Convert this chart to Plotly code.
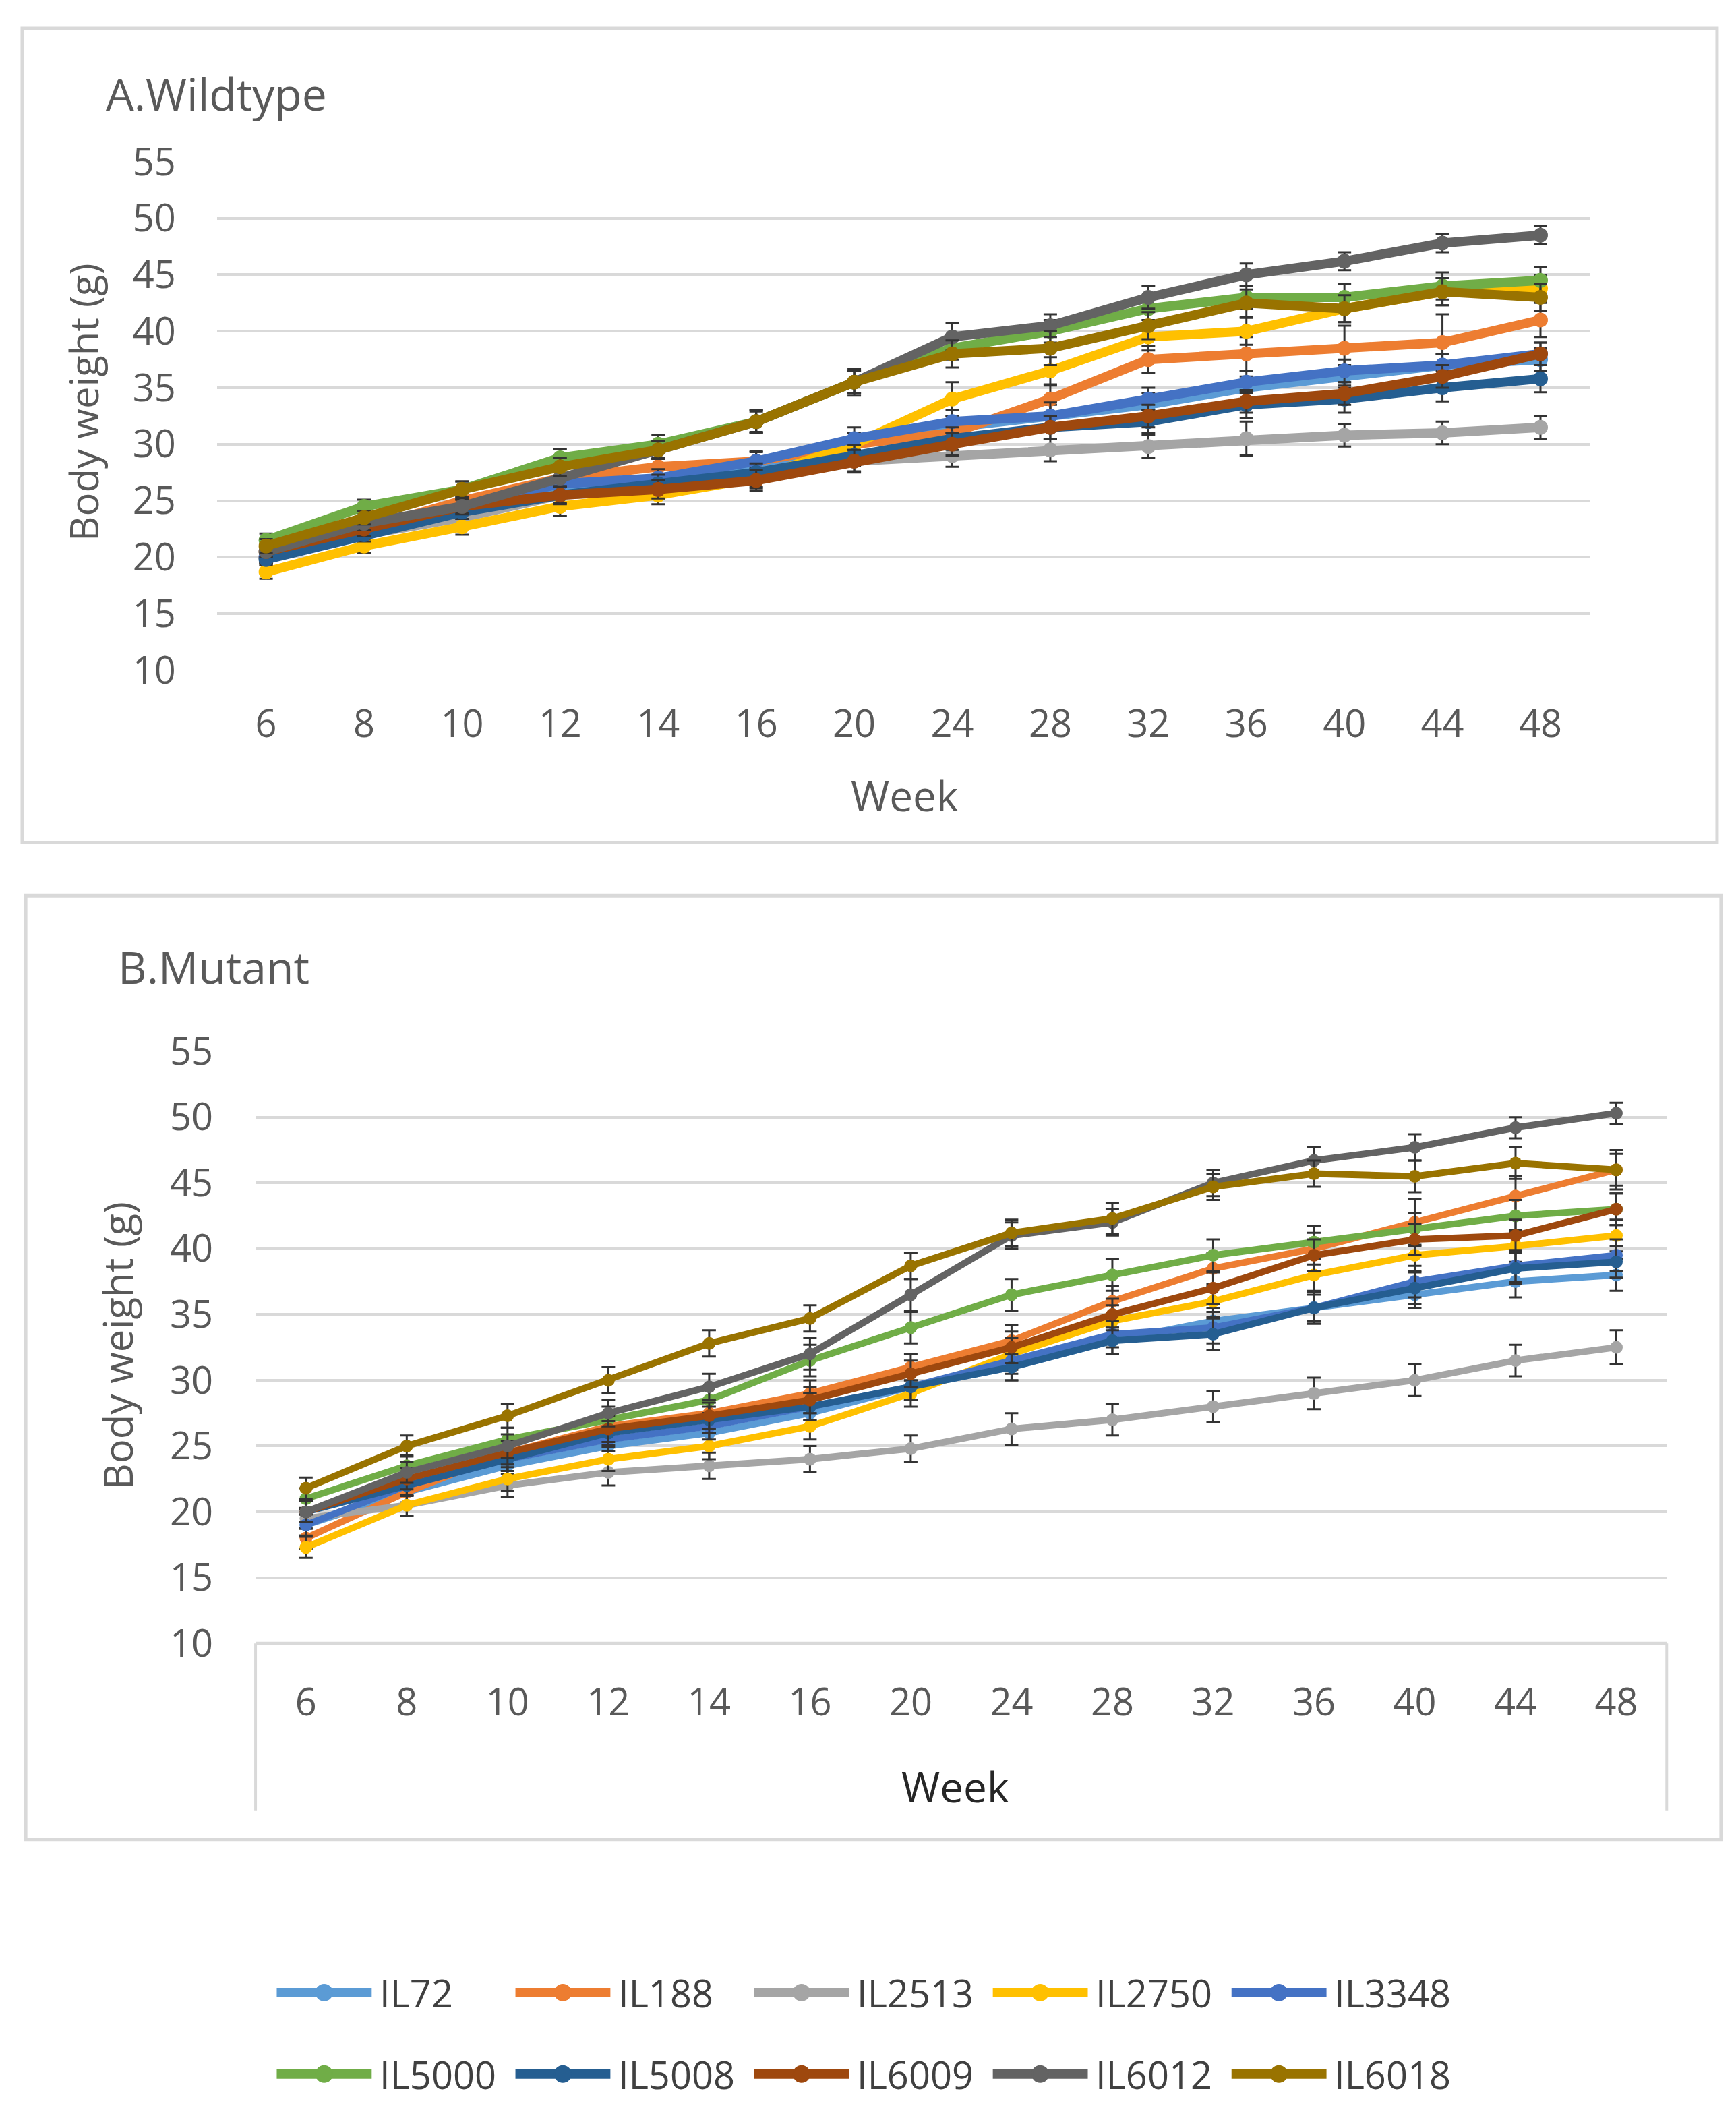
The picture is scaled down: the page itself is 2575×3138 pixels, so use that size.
import plotly.graph_objects as go

# Weeks on the category axis
weeks = ["6", "8", "10", "12", "14", "16", "20", "24", "28", "32", "36", "40", "44", "48"]

lines = ["IL72", "IL188", "IL2513", "IL2750", "IL3348", "IL5000", "IL5008", "IL6009", "IL6012", "IL6018"]
colors = ["#5B9BD5", "#ED7D31", "#A5A5A5", "#FFC000", "#4472C4",
          "#70AD47", "#255E91", "#9E480E", "#636363", "#997300"]

# A. Wildtype body weight (g)
wt_IL72 = [20.0, 22.0, 24.0, 26.0, 27.0, 28.0, 30.0, 31.5, 32.5, 33.5, 35.0, 36.0, 37.0, 37.5]
wt_IL188 = [20.0, 22.5, 25.0, 27.0, 28.0, 28.5, 30.0, 31.0, 34.0, 37.5, 38.0, 38.5, 39.0, 41.0]
wt_IL2513 = [20.0, 22.0, 23.5, 25.5, 26.0, 27.0, 28.5, 29.0, 29.5, 29.8, 30.5, 30.8, 31.0, 31.5]
wt_IL2750 = [18.7, 21.0, 22.7, 24.5, 25.5, 27.0, 30.0, 34.0, 36.5, 39.5, 40.0, 42.0, 43.5, 43.8]
wt_IL3348 = [20.0, 22.5, 24.5, 26.5, 27.0, 28.5, 30.5, 32.0, 32.5, 34.0, 35.5, 36.5, 37.0, 38.0]
wt_IL5000 = [21.5, 24.5, 26.0, 28.8, 30.0, 32.0, 35.5, 38.5, 40.0, 42.0, 43.0, 43.0, 44.0, 44.5]
wt_IL5008 = [19.8, 22.0, 24.0, 25.5, 26.5, 27.5, 29.0, 30.5, 31.5, 32.0, 33.5, 34.0, 35.0, 35.8]
wt_IL6009 = [20.5, 22.5, 24.5, 25.5, 26.0, 26.8, 28.5, 30.0, 31.5, 32.5, 33.8, 34.5, 36.0, 38.0]
wt_IL6012 = [20.5, 23.0, 24.5, 27.0, 29.5, 32.0, 35.5, 39.5, 40.5, 43.0, 45.0, 46.2, 47.8, 48.5]
wt_IL6018 = [21.0, 23.5, 26.0, 28.0, 29.5, 32.0, 35.5, 38.0, 38.5, 40.5, 42.5, 42.0, 43.5, 43.0]

wt_err_IL72 = [0.5, 0.6, 0.6, 0.7, 0.8, 0.8, 1.0, 1.0, 1.0, 1.0, 1.0, 1.0, 1.0, 1.0]
wt_err_IL188 = [0.5, 0.6, 0.7, 0.8, 0.8, 0.9, 1.0, 1.2, 1.2, 1.2, 1.5, 2.0, 2.5, 1.5]
wt_err_IL2513 = [0.5, 0.6, 0.6, 0.7, 0.8, 0.8, 0.9, 1.0, 1.0, 1.0, 1.5, 1.0, 1.0, 1.0]
wt_err_IL2750 = [0.6, 0.6, 0.7, 0.8, 0.8, 0.9, 1.0, 1.5, 1.2, 1.2, 1.2, 1.2, 1.2, 1.2]
wt_err_IL3348 = [0.5, 0.6, 0.6, 0.7, 0.8, 0.8, 1.0, 1.0, 1.2, 1.0, 1.0, 1.0, 1.0, 1.0]
wt_err_IL5000 = [0.6, 0.6, 0.7, 0.8, 0.8, 0.9, 1.0, 1.0, 1.0, 1.0, 1.0, 1.2, 1.2, 1.2]
wt_err_IL5008 = [0.5, 0.6, 0.6, 0.7, 0.8, 0.8, 0.9, 1.0, 1.0, 1.0, 1.2, 1.2, 1.2, 1.2]
wt_err_IL6009 = [0.5, 0.6, 0.6, 0.8, 0.8, 0.9, 1.0, 1.0, 1.0, 1.0, 1.0, 1.0, 1.0, 1.0]
wt_err_IL6012 = [0.5, 0.6, 0.7, 0.8, 0.8, 1.0, 1.0, 1.2, 1.0, 1.0, 1.0, 0.8, 0.8, 0.8]
wt_err_IL6018 = [0.6, 0.6, 0.7, 0.8, 0.8, 1.0, 1.2, 1.2, 1.5, 1.2, 1.2, 1.2, 1.2, 1.2]

# B. Mutant body weight (g)
mu_IL72 = [19.0, 21.5, 23.5, 25.0, 26.0, 27.5, 29.5, 31.0, 33.0, 34.5, 35.5, 36.5, 37.5, 38.0]
mu_IL188 = [18.0, 21.5, 24.5, 26.5, 27.5, 29.0, 31.0, 33.0, 36.0, 38.5, 40.0, 42.0, 44.0, 46.0]
mu_IL2513 = [19.5, 20.5, 22.0, 23.0, 23.5, 24.0, 24.8, 26.3, 27.0, 28.0, 29.0, 30.0, 31.5, 32.5]
mu_IL2750 = [17.3, 20.5, 22.5, 24.0, 25.0, 26.5, 29.0, 32.0, 34.5, 36.0, 38.0, 39.5, 40.2, 41.0]
mu_IL3348 = [19.0, 22.0, 24.0, 25.5, 26.5, 28.0, 29.5, 31.5, 33.5, 34.0, 35.5, 37.5, 38.7, 39.5]
mu_IL5000 = [21.0, 23.5, 25.5, 27.0, 28.5, 31.5, 34.0, 36.5, 38.0, 39.5, 40.5, 41.5, 42.5, 43.0]
mu_IL5008 = [20.0, 22.0, 24.0, 26.0, 27.0, 28.0, 29.5, 31.0, 33.0, 33.5, 35.5, 37.0, 38.5, 39.0]
mu_IL6009 = [20.0, 22.5, 24.5, 26.3, 27.3, 28.5, 30.5, 32.5, 35.0, 37.0, 39.5, 40.7, 41.0, 43.0]
mu_IL6012 = [20.0, 23.0, 25.0, 27.5, 29.5, 32.0, 36.5, 41.0, 42.0, 45.0, 46.7, 47.7, 49.2, 50.3]
mu_IL6018 = [21.8, 25.0, 27.3, 30.0, 32.8, 34.7, 38.7, 41.2, 42.3, 44.7, 45.7, 45.5, 46.5, 46.0]

mu_err_IL72 = [0.8, 0.8, 0.9, 0.9, 1.0, 1.0, 1.0, 1.0, 1.0, 1.0, 1.0, 1.0, 1.2, 1.2]
mu_err_IL188 = [0.8, 0.8, 0.9, 1.0, 1.0, 1.0, 1.0, 1.2, 1.2, 1.2, 1.2, 1.8, 1.5, 1.5]
mu_err_IL2513 = [0.8, 0.8, 0.9, 1.0, 1.0, 1.0, 1.0, 1.2, 1.2, 1.2, 1.2, 1.2, 1.2, 1.3]
mu_err_IL2750 = [0.8, 0.8, 0.9, 0.9, 1.0, 1.0, 1.0, 1.2, 1.2, 1.2, 1.2, 1.2, 1.2, 1.2]
mu_err_IL3348 = [0.8, 0.8, 0.9, 0.9, 1.0, 1.0, 1.0, 1.0, 1.0, 1.2, 1.2, 1.2, 1.2, 1.2]
mu_err_IL5000 = [0.8, 0.8, 0.9, 1.0, 1.0, 1.2, 1.2, 1.2, 1.2, 1.2, 1.2, 1.2, 1.2, 1.2]
mu_err_IL5008 = [0.8, 0.8, 0.9, 0.9, 1.0, 1.0, 1.0, 1.0, 1.0, 1.2, 1.2, 1.2, 1.2, 1.2]
mu_err_IL6009 = [0.8, 0.8, 0.9, 1.0, 1.0, 1.0, 1.0, 1.2, 1.2, 1.2, 1.2, 1.2, 1.2, 1.2]
mu_err_IL6012 = [0.8, 0.8, 0.9, 1.0, 1.0, 1.2, 1.2, 1.0, 1.0, 1.0, 1.0, 1.0, 0.8, 0.8]
mu_err_IL6018 = [0.8, 0.8, 0.9, 1.0, 1.0, 1.0, 1.0, 1.0, 1.2, 1.0, 1.0, 1.2, 1.2, 1.2]

wildtype = [wt_IL72, wt_IL188, wt_IL2513, wt_IL2750, wt_IL3348,
            wt_IL5000, wt_IL5008, wt_IL6009, wt_IL6012, wt_IL6018]
wildtype_err = [wt_err_IL72, wt_err_IL188, wt_err_IL2513, wt_err_IL2750, wt_err_IL3348,
                wt_err_IL5000, wt_err_IL5008, wt_err_IL6009, wt_err_IL6012, wt_err_IL6018]
mutant = [mu_IL72, mu_IL188, mu_IL2513, mu_IL2750, mu_IL3348,
          mu_IL5000, mu_IL5008, mu_IL6009, mu_IL6012, mu_IL6018]
mutant_err = [mu_err_IL72, mu_err_IL188, mu_err_IL2513, mu_err_IL2750, mu_err_IL3348,
              mu_err_IL5000, mu_err_IL5008, mu_err_IL6009, mu_err_IL6012, mu_err_IL6018]

FONT = "Open Sans, Noto Sans, sans-serif"
TEXT = "#595959"
GRID = "#D9D9D9"

fig = go.Figure()

# Series for both panels (wildtype lines are drawn a bit heavier)
for values, errs, xa, ya, lw, ms in [(wildtype, wildtype_err, "x", "y", 14, 22),
                                     (mutant, mutant_err, "x2", "y2", 10, 19)]:
    for name, color, v, e in zip(lines, colors, values, errs):
        fig.add_trace(go.Scatter(
            x=weeks, y=v, name=name, xaxis=xa, yaxis=ya,
            mode="lines+markers",
            line=dict(color=color, width=lw),
            marker=dict(color=color, size=ms, symbol="circle"),
            error_y=dict(type="data", array=e, visible=True,
                         color="#333333", thickness=3, width=10),
            showlegend=False,
        ))

# no automargin anywhere, the page is laid out by hand in paper coordinates
axis_common = dict(
    tickfont=dict(family=FONT, size=56, color=TEXT),
    showline=False, zeroline=False, ticks="", automargin=False,
)

fig.update_layout(
    width=2575, height=3138,
    margin=dict(l=0, r=0, t=0, b=0, pad=0, autoexpand=False),
    paper_bgcolor="white", plot_bgcolor="white",
    font=dict(family=FONT, color=TEXT),
    showlegend=False,
    xaxis=dict(domain=[0.1219, 0.9125], type="category", categoryorder="array",
               categoryarray=weeks, range=[-0.5, 13.5], showgrid=False,
               ticklabelstandoff=42, anchor="y", **axis_common),
    yaxis=dict(domain=[0.6858, 0.9261], range=[10, 55], dtick=5, tick0=10,
               showgrid=True, gridcolor=GRID, gridwidth=4,
               ticklabelstandoff=60, anchor="x", **axis_common),
    xaxis2=dict(domain=[0.1441, 0.957], type="category", categoryorder="array",
                categoryarray=weeks, range=[-0.5, 13.5], showgrid=False,
                ticklabelstandoff=50, anchor="y2", **axis_common),
    yaxis2=dict(domain=[0.2259, 0.5057], range=[10, 55], dtick=5, tick0=10,
                showgrid=True, gridcolor=GRID, gridwidth=4,
                ticklabelstandoff=62, anchor="x2", **axis_common),
)

shapes = []
annotations = []

# Chart area borders
shapes.append(dict(type="rect", xref="paper", yref="paper", x0=0.0097, x1=0.986,
                   y0=0.6044, y1=0.9892, line=dict(color=GRID, width=5), layer="below"))
shapes.append(dict(type="rect", xref="paper", yref="paper", x0=0.0117, x1=0.9883,
                   y0=0.1333, y1=0.5793, line=dict(color=GRID, width=5), layer="below"))

# Category axis frame in the mutant panel
for xx in [0.1441, 0.957]:
    shapes.append(dict(type="line", xref="paper", yref="paper", x0=xx, x1=xx,
                       y0=0.147, y1=0.2259, line=dict(color=GRID, width=4)))
shapes.append(dict(type="line", xref="paper", yref="paper", x0=0.1441, x1=0.957,
                   y0=0.2259, y1=0.2259, line=dict(color=GRID, width=5)))


def label(text, x, y, size, color=TEXT, angle=0, xanchor="center"):
    annotations.append(dict(text=text, x=x, y=y, xref="paper", yref="paper",
                            xanchor=xanchor, yanchor="middle", textangle=angle,
                            showarrow=False, font=dict(family=FONT, size=size, color=color)))


# Panel titles and axis titles
label("A.Wildtype", 0.0571, 0.9586, 66, xanchor="left")
label("B.Mutant", 0.0641, 0.5459, 66, xanchor="left")
label("Body weight (g)", 0.0446, 0.8126, 58, angle=-90)
label("Body weight (g)", 0.0645, 0.3665, 60, angle=-90)
label("Week", 0.518, 0.6269, 62)
label("Week", 0.547, 0.1583, 62, color="#262626")

# Legend, two rows of five, drawn below the panels
for i, (name, color) in enumerate(zip(lines, colors)):
    row, col = divmod(i, 5)
    x0 = 0.1563 + col * 0.1375
    yy = 0.0609 - row * 0.0385
    shapes.append(dict(type="line", xref="paper", yref="paper", x0=x0, x1=x0 + 0.0547,
                       y0=yy, y1=yy, line=dict(color=color, width=14)))
    shapes.append(dict(type="circle", xref="paper", yref="paper",
                       xsizemode="pixel", ysizemode="pixel",
                       xanchor=x0 + 0.0273, yanchor=yy, x0=-12, x1=12, y0=-12, y1=12,
                       fillcolor=color, line=dict(color=color, width=2)))
    annotations.append(dict(text=name, x=x0 + 0.0585, y=yy, xref="paper", yref="paper",
                            xanchor="left", yanchor="middle", showarrow=False,
                            font=dict(family="Liberation Sans Narrow, Open Sans, sans-serif",
                                      size=56, color="#404040")))

fig.update_layout(shapes=shapes, annotations=annotations)

fig.write_html("out.html")
